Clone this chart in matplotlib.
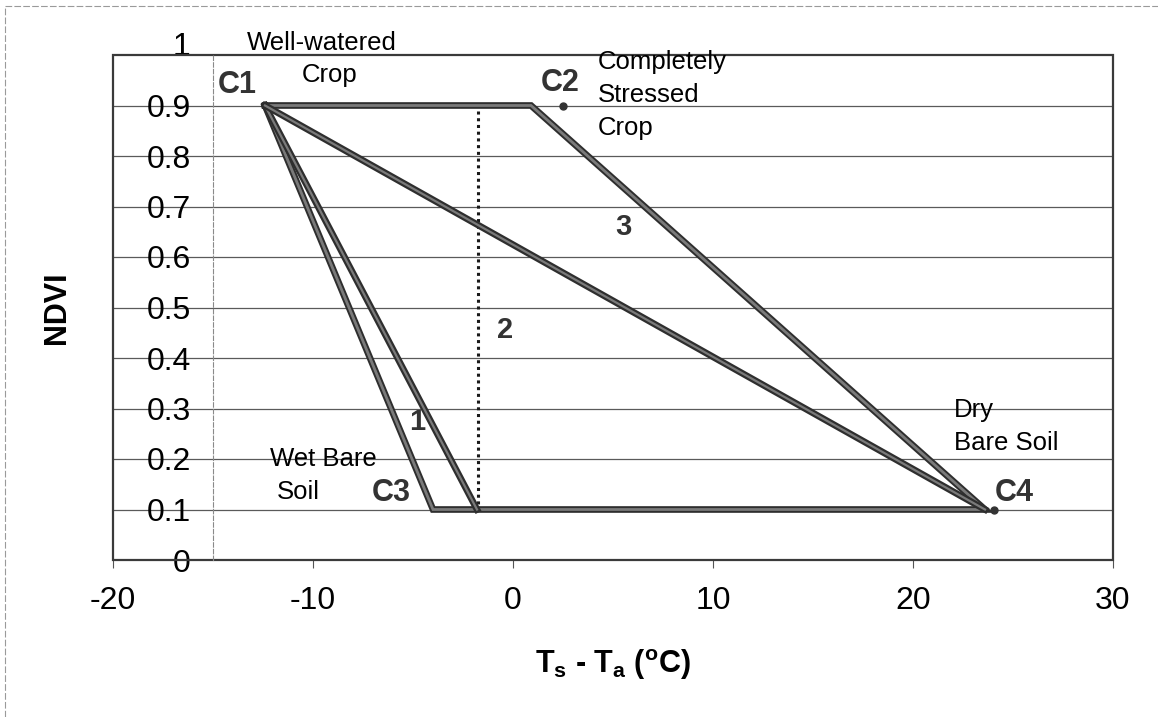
import matplotlib
matplotlib.use("Agg")
import matplotlib.pyplot as plt
import matplotlib.patheffects as pe
from matplotlib.patches import Rectangle

plt.rcParams['font.family'] = ['Liberation Sans', 'DejaVu Sans']
plt.rcParams['mathtext.fontset'] = 'custom'
plt.rcParams['mathtext.rm'] = 'Liberation Sans:bold'
plt.rcParams['mathtext.it'] = 'Liberation Sans:bold'
plt.rcParams['mathtext.bf'] = 'Liberation Sans:bold'

# trapezoid corners: C1 -> top end -> C4 base -> C3 -> back to C1
outline_x = [-12.4, 0.9, 23.6, -4.0, -12.4]
outline_y = [0.9, 0.9, 0.1, 0.1, 0.9]

# inner edges from C1
inner1_x = [-12.4, -1.8]
inner1_y = [0.9, 0.1]
inner2_x = [-12.4, 23.6]
inner2_y = [0.9, 0.1]

# dotted divider
divider_x = [-1.75, -1.75]
divider_y = [0.89, 0.1]

# corner points C2, C4
dots_x = [2.5, 24.05]
dots_y = [0.9, 0.1]

x_ticks = [-20, -10, 0, 10, 20, 30]
y_ticks = [0, 0.1, 0.2, 0.3, 0.4, 0.5, 0.6, 0.7, 0.8, 0.9, 1]
y_labels = ['0', '0.1', '0.2', '0.3', '0.4', '0.5', '0.6', '0.7', '0.8', '0.9', '1']

fig = plt.figure(figsize=(11.58, 7.17), dpi=100)
ax = fig.add_axes([113 / 1158, 1 - 560 / 717, 1000 / 1158, 505 / 717])
ax.set_xlim(-20, 30)
ax.set_ylim(0, 1)

# grid
for yv in y_ticks[1:-1]:
    ax.axhline(yv, color='#5a5a5a', lw=0.9, zorder=1)

# y axis crosses at x = -15
for s in ['top', 'right', 'bottom']:
    ax.spines[s].set_visible(False)
ax.spines['left'].set_position(('data', -15))
ax.spines['left'].set_color('#8a8a8a')
ax.spines['left'].set_linewidth(0.8)
ax.spines['left'].set_linestyle((0, (4, 2)))
ax.add_patch(Rectangle((0, 0), 1, 1, transform=ax.transAxes, fill=False,
                       ec='#3a3a3a', lw=1.6, zorder=2, clip_on=False))

ax.set_xticks(x_ticks)
ax.set_xticklabels([str(v) for v in x_ticks], fontsize=23)
ax.set_yticks(y_ticks)
ax.set_yticklabels(y_labels, fontsize=23)
ax.tick_params(axis='x', length=6, width=0.8, color='#555555', pad=13)
ax.tick_params(axis='y', length=0, pad=16)
ax.yaxis.get_major_ticks()[-1].label1.set_verticalalignment('baseline')

edge = [pe.Stroke(linewidth=4.8, foreground='#2e2e2e'), pe.Normal()]
ax.plot(outline_x, outline_y, color='#7a7a7a', lw=2.0, solid_joinstyle='miter',
        path_effects=edge, zorder=4)
ax.plot(inner1_x, inner1_y, color='#7a7a7a', lw=1.6, path_effects=edge, zorder=4)
ax.plot(inner2_x, inner2_y, color='#7a7a7a', lw=1.6, path_effects=edge, zorder=4)
ax.plot(divider_x, divider_y, color='#1a1a1a', lw=2.2, linestyle=(0, (1, 1.2)), zorder=3)
ax.plot(dots_x, dots_y, 'o', color='#333333', ms=5, zorder=5)

# region numbers
ax.text(-4.8, 0.273, '1', fontsize=21, fontweight='bold', color='#333333', ha='center', va='center')
ax.text(-0.4, 0.455, '2', fontsize=21, fontweight='bold', color='#333333', ha='center', va='center')
ax.text(5.5, 0.66, '3', fontsize=21, fontweight='bold', color='#333333', ha='center', va='center')

# corner labels
ax.text(-13.8, 0.94, 'C1', fontsize=22, fontweight='bold', color='#333333', ha='center', va='center')
ax.text(2.35, 0.945, 'C2', fontsize=22, fontweight='bold', color='#333333', ha='center', va='center')
ax.text(-6.1, 0.133, 'C3', fontsize=22, fontweight='bold', color='#333333', ha='center', va='center')
ax.text(25.05, 0.133, 'C4', fontsize=22, fontweight='bold', color='#333333', ha='center', va='center')

# descriptions
ax.text(-9.55, 1.024, 'Well-watered', fontsize=18.5, ha='center', va='center', clip_on=False)
ax.text(-9.15, 0.96, 'Crop', fontsize=18.5, ha='center', va='center')
ax.text(4.25, 0.986, 'Completely', fontsize=18.5, ha='left', va='center')
ax.text(4.25, 0.921, 'Stressed', fontsize=18.5, ha='left', va='center')
ax.text(4.25, 0.855, 'Crop', fontsize=18.5, ha='left', va='center')
ax.text(-9.5, 0.2, 'Wet Bare', fontsize=18.5, ha='center', va='center')
ax.text(-10.75, 0.135, 'Soil', fontsize=18.5, ha='center', va='center')
ax.text(22.05, 0.297, 'Dry', fontsize=18.5, ha='left', va='center')
ax.text(22.05, 0.232, 'Bare Soil', fontsize=18.5, ha='left', va='center')

fig.text(57 / 1158, 1 - 308 / 717, 'NDVI', fontsize=22, fontweight='bold',
         rotation=90, ha='center', va='center')
fig.text(613 / 1158, 1 - 665 / 717, r'T$_\mathrm{s}$ - T$_\mathrm{a}$ ($^\mathrm{o}$C)',
         fontsize=22, fontweight='bold', ha='center', va='center')

# outer frame of the figure
fig.add_artist(plt.Line2D([0.004, 1], [0.992, 0.992], transform=fig.transFigure,
                          color='#9a9a9a', lw=0.8, linestyle=(0, (6, 2))))
fig.add_artist(plt.Line2D([0.004, 0.004], [0, 0.992], transform=fig.transFigure,
                          color='#9a9a9a', lw=0.8, linestyle=(0, (6, 2))))

fig.savefig('out.png', dpi=100)
